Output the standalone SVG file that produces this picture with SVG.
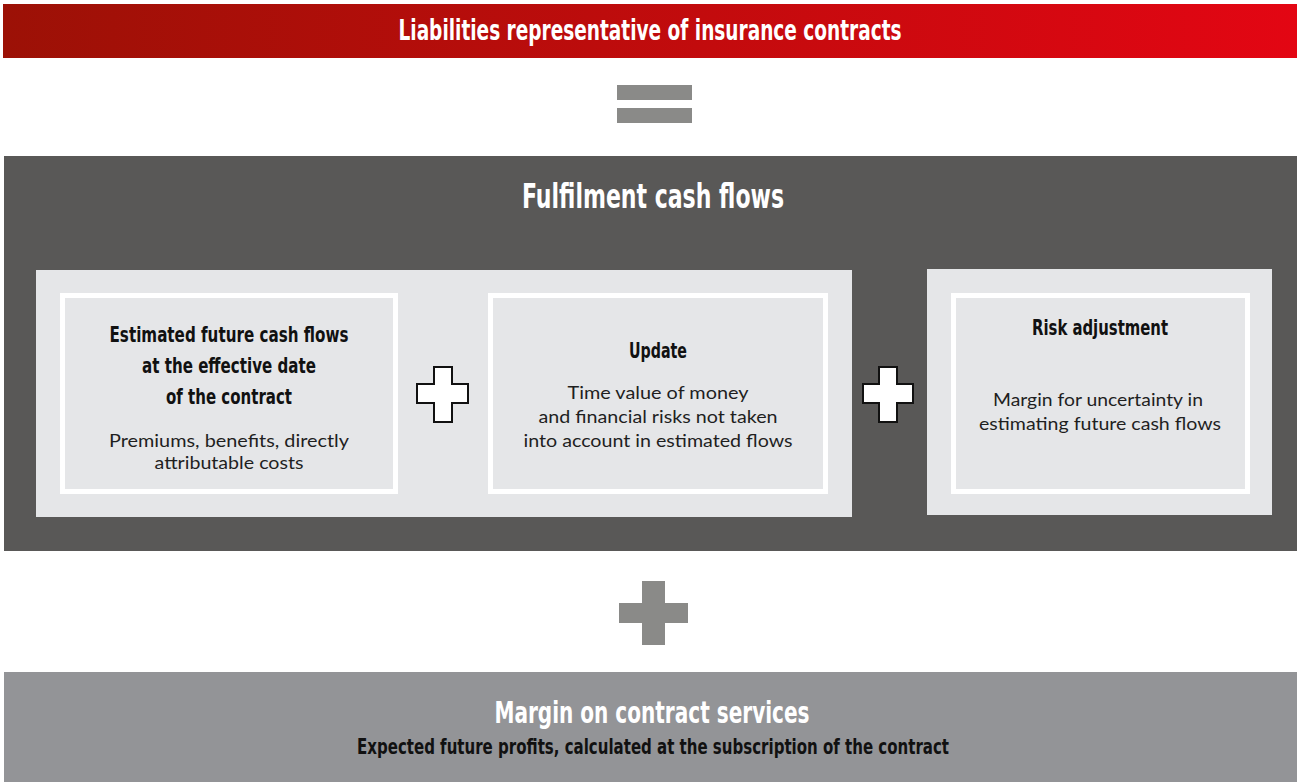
<svg xmlns="http://www.w3.org/2000/svg" width="1301" height="782" viewBox="0 0 1301 782">
  <defs>
    <linearGradient id="redGrad" x1="0" y1="0" x2="1" y2="0">
      <stop offset="0" stop-color="#9c1106"/>
      <stop offset="1" stop-color="#e30613"/>
    </linearGradient>
    <style>
      .cond { font-family: "Liberation Sans Narrow", "DejaVu Sans Condensed", "Liberation Sans", sans-serif; font-weight: bold; text-anchor: middle; }
      .body { font-family: Lato, "Open Sans", "Liberation Sans", sans-serif; font-size: 17px; font-weight: 400; fill: #1f1f1f; text-anchor: middle; }
      .head { font-size: 22px; fill: #111; }
      .white { fill: #ffffff; }
      .inner { fill: #e5e6e8; stroke: #ffffff; stroke-width: 5; }
      .panel { fill: #e5e6e8; }
      .grey { fill: #8a8a88; }
      .plus { fill: #ffffff; stroke: #111; stroke-width: 2; }
    </style>
  </defs>
  <rect width="1301" height="782" fill="#ffffff"/>

  <g id="liabilities">
    <rect x="3" y="4" width="1294" height="54" fill="url(#redGrad)"/>
    <text class="cond white" x="650" y="40" font-size="28" textLength="503" lengthAdjust="spacingAndGlyphs">Liabilities representative of insurance contracts</text>
  </g>

  <g id="fulfilment">
    <rect x="4" y="156" width="1293" height="395" fill="#595857"/>
    <text class="cond white" x="653" y="208" font-size="33" textLength="262" lengthAdjust="spacingAndGlyphs">Fulfilment cash flows</text>
    <rect class="panel" x="36" y="270" width="816" height="247"/>
    <rect class="panel" x="927" y="269" width="345" height="246"/>
  </g>

  <g id="estimated">
    <rect class="inner" x="62.5" y="295.5" width="333" height="196"/>
    <text class="cond head" x="229" y="342" textLength="239" lengthAdjust="spacingAndGlyphs">Estimated future cash flows</text>
    <text class="cond head" x="229" y="373" textLength="174" lengthAdjust="spacingAndGlyphs">at the effective date</text>
    <text class="cond head" x="229" y="404" textLength="126" lengthAdjust="spacingAndGlyphs">of the contract</text>
    <text class="body" x="229" y="447" textLength="240" lengthAdjust="spacingAndGlyphs">Premiums, benefits, directly</text>
    <text class="body" x="229" y="469" textLength="149" lengthAdjust="spacingAndGlyphs">attributable costs</text>
  </g>

  <g id="update">
    <rect class="inner" x="490.5" y="295.5" width="335" height="196"/>
    <text class="cond head" x="658" y="358" textLength="58" lengthAdjust="spacingAndGlyphs">Update</text>
    <text class="body" x="658" y="399" textLength="181" lengthAdjust="spacingAndGlyphs">Time value of money</text>
    <text class="body" x="658" y="423" textLength="239" lengthAdjust="spacingAndGlyphs">and financial risks not taken</text>
    <text class="body" x="658" y="447" textLength="269" lengthAdjust="spacingAndGlyphs">into account in estimated flows</text>
  </g>

  <g id="risk-adjustment">
    <rect class="inner" x="953.5" y="295.5" width="294" height="196"/>
    <text class="cond head" x="1100" y="335" textLength="136" lengthAdjust="spacingAndGlyphs">Risk adjustment</text>
    <text class="body" x="1098" y="406" textLength="210" lengthAdjust="spacingAndGlyphs">Margin for uncertainty in</text>
    <text class="body" x="1100" y="430" textLength="242" lengthAdjust="spacingAndGlyphs">estimating future cash flows</text>
  </g>

  <g id="margin">
    <rect x="4" y="672" width="1293" height="110" fill="#939497"/>
    <text class="cond white" x="652" y="723" font-size="30" textLength="315" lengthAdjust="spacingAndGlyphs">Margin on contract services</text>
    <text class="cond" x="653" y="754" font-size="21" fill="#111" textLength="592" lengthAdjust="spacingAndGlyphs">Expected future profits, calculated at the subscription of the contract</text>
  </g>

  <g id="operators">
    <rect class="grey" x="617" y="85" width="75" height="15"/>
    <rect class="grey" x="617" y="108" width="75" height="15"/>
    <path class="plus" d="M434,367 H452 V384 H468 V403 H452 V422 H434 V403 H417 V384 H434 Z"/>
    <path class="plus" d="M879,367 H897 V384 H913 V403 H897 V422 H879 V403 H863 V384 H879 Z"/>
    <path class="grey" d="M642,581 H665 V603 H688 V623 H665 V645 H642 V623 H619 V603 H642 Z"/>
  </g>
</svg>
